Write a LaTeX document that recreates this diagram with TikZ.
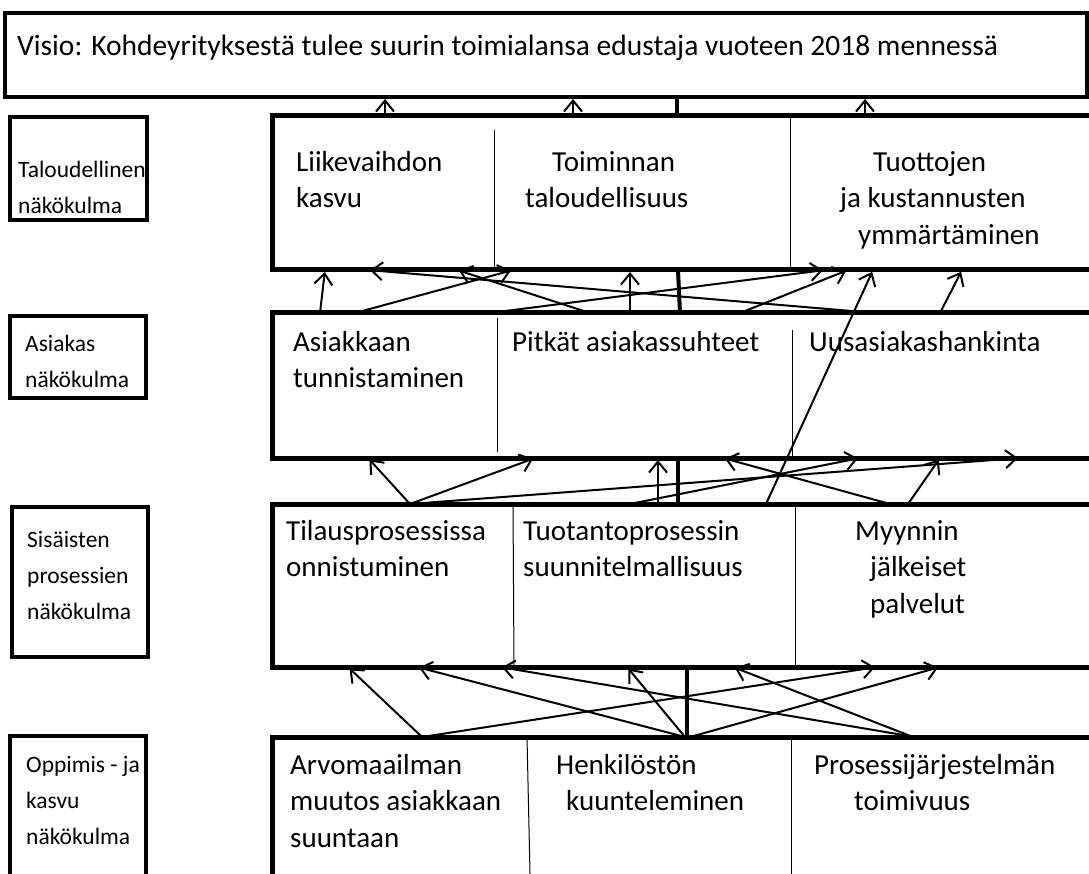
\documentclass[tikz,border=0pt]{standalone}
\usepackage{fontspec}
\setmainfont{Carlito}
\usetikzlibrary{arrows.meta}

\begin{document}
\begin{tikzpicture}[x=1pt,y=-1pt,>={Straight Barb[length=11pt,width=18pt]}, every node/.style={font=\fontsize{29}{36.5}\selectfont}]
\tikzstyle{bigbox}=[draw,line width=5pt,anchor=north west,inner sep=0pt,outer sep=0pt]
\tikzstyle{sidebox}=[draw,line width=4pt,anchor=north west,inner sep=0pt,outer sep=0pt]
\tikzstyle{txt}=[anchor=north west,align=left,inner sep=0pt]
\tikzstyle{sidetxt}=[txt,font=\fontsize{23.5}{36}\selectfont]
\tikzstyle{arr}=[->,line width=2pt,shorten >=2pt]
\tikzstyle{spine}=[line width=4pt]
\tikzstyle{divider}=[line width=1pt]
\useasboundingbox (0,0) rectangle (1089,874);
% vision
\node[bigbox,line width=4pt,minimum width=1082pt,minimum height=84pt] (visio) at (5,13) {};
\node[txt,font=\fontsize{29.5}{36}\selectfont] (visiotxt) at (17,35) {Visio: Kohdeyrityksestä tulee suurin toimialansa edustaja vuoteen 2018 mennessä};
% perspectives
\node[sidebox,minimum width=137pt,minimum height=103pt] (talousL) at (10,117) {};
\node[sidebox,minimum width=136pt,minimum height=82pt] (asiakasL) at (10,316) {};
\node[sidebox,minimum width=136pt,minimum height=150pt] (sisaisetL) at (12,507) {};
\node[sidebox,minimum width=136pt,minimum height=150pt] (oppimisL) at (10,736) {};
\node[sidetxt] (talousLtxt) at (18,161) {Taloudellinen\\näkökulma};
\node[sidetxt] (asiakasLtxt) at (25,335) {Asiakas\\näkökulma};
\node[sidetxt] (sisaisetLtxt) at (27,531) {Sisäisten\\prosessien\\näkökulma};
\node[sidetxt] (oppimisLtxt) at (26,756) {Oppimis - ja\\kasvu\\näkökulma};
% goal rows
\node[bigbox,minimum width=823pt,minimum height=154pt] (talous) at (272,116) {};
\node[bigbox,minimum width=823pt,minimum height=145pt] (asiakas) at (272,313) {};
\node[bigbox,minimum width=823pt,minimum height=163pt] (sisaiset) at (272,504) {};
\node[bigbox,minimum width=823pt,minimum height=150pt] (oppimis) at (272,737) {};
\draw[divider] (494,130) -- (talous.south -| 494,0);
\draw[divider] (talous.north -| 790,0) -- (talous.south -| 790,0);
\draw[divider] (497,318) -- (497,452);
\draw[divider] (792,330) -- (asiakas.south -| 792,0);
\draw[divider] (sisaiset.north -| 513,0) -- (sisaiset.south -| 514,0);
\draw[divider] (sisaiset.north -| 795,0) -- (sisaiset.south -| 795,0);
\draw[divider] (oppimis.north -| 527,0) -- (530,874);
\draw[divider] (oppimis.north -| 791,0) -- (791,874);
\node[txt] (liike) at (296,151) {Liikevaihdon\\kasvu};
\node[txt] (toiminta) at (525,151) {\hspace*{27pt}Toiminnan\\taloudellisuus};
\node[txt] (tuotot) at (840,151) {\hspace*{33pt}Tuottojen\\ja kustannusten\\\hspace*{18pt}ymmärtäminen};
\node[txt] (tunnistus) at (293,331) {Asiakkaan\\tunnistaminen};
\node[txt] (suhteet) at (512,331) {Pitkät asiakassuhteet};
\node[txt] (hankinta) at (809,331) {Uusasiakashankinta};
\node[txt] (tilaus) at (286,520) {Tilausprosessissa\\onnistuminen};
\node[txt] (tuotanto) at (523,520) {Tuotantoprosessin\\suunnitelmallisuus};
\node[txt] (myynti) at (855,520) {Myynnin\\\hspace*{15pt}jälkeiset\\\hspace*{15pt}palvelut};
\node[txt] (arvot) at (290,754) {Arvomaailman\\muutos asiakkaan\\suuntaan};
\node[txt] (henkilosto) at (556,754) {Henkilöstön\\\hspace*{10pt}kuunteleminen};
\node[txt] (jarjestelma) at (814,754) {Prosessijärjestelmän\\\hspace*{40pt}toimivuus};
% spine
\draw[spine] (visio.south -| 677,0) -- (talous.north -| 677,0);
\draw[spine] (talous.south -| 678,0) -- (asiakas.north -| 680,0);
\draw[spine] (asiakas.south -| 678,0) -- (sisaiset.north -| 678,0);
\draw[spine] (sisaiset.south -| 687,0) -- (oppimis.north -| 687,0);
% talous -> visio
\draw[arr] (talous.north -| 385,0) -- (visio.south -| 385,0);
\draw[arr] (talous.north -| 573,0) -- (visio.south -| 573,0);
\draw[arr] (talous.north -| 865,0) -- (visio.south -| 865,0);
% asiakas -> talous
\draw[arr] (asiakas.north -| 320,0) -- (talous.south -| 325,0);
\draw[arr] (asiakas.north -| 875,0) -- (talous.south -| 368,0);
\draw[arr] (asiakas.north -| 355,0) -- (talous.south -| 513,0);
\draw[arr] (asiakas.north -| 590,0) -- (talous.south -| 457,0);
\draw[arr] (asiakas.north -| 630,0) -- (talous.south -| 630,0);
\draw[arr] (asiakas.north -| 490,0) -- (talous.south -| 825,0);
\draw[arr] (asiakas.north -| 740,0) -- (talous.south -| 848,0);
\draw[arr] (sisaiset.north -| 766,0) -- (talous.south -| 873,0);
\draw[arr] (asiakas.north -| 940,0) -- (talous.south -| 962,0);
% sisaiset -> asiakas
\draw[arr] (sisaiset.north -| 410,0) -- (asiakas.south -| 368,0);
\draw[arr] (sisaiset.north -| 410,0) -- (asiakas.south -| 535,0);
\draw[arr] (sisaiset.north -| 410,0) -- (asiakas.south -| 1020,0);
\draw[arr] (sisaiset.north -| 658,0) -- (asiakas.south -| 658,0);
\draw[arr] (sisaiset.north -| 630,0) -- (asiakas.south -| 860,0);
\draw[arr] (sisaiset.north -| 890,0) -- (asiakas.south -| 723,0);
\draw[arr] (sisaiset.north -| 908,0) -- (asiakas.south -| 940,0);
% oppimis -> sisaiset
\draw[arr] (oppimis.north -| 422,0) -- (sisaiset.south -| 348,0);
\draw[arr] (oppimis.north -| 422,0) -- (sisaiset.south -| 877,0);
\draw[arr] (oppimis.north -| 685,0) -- (sisaiset.south -| 417,0);
\draw[arr] (oppimis.north -| 915,0) -- (sisaiset.south -| 500,0);
\draw[arr] (oppimis.north -| 685,0) -- (sisaiset.south -| 627,0);
\draw[arr] (oppimis.north -| 690,0) -- (sisaiset.south -| 940,0);
\draw[arr] (oppimis.north -| 913,0) -- (sisaiset.south -| 733,0);
\end{tikzpicture}
\end{document}
